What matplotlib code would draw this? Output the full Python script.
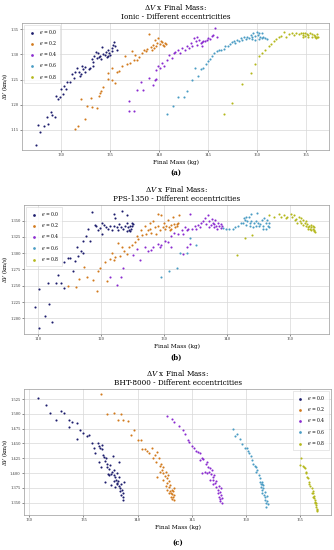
import matplotlib
matplotlib.use("Agg")
import matplotlib.pyplot as plt

plt.rcParams['font.family'] = 'DejaVu Serif'
plt.rcParams['mathtext.fontset'] = 'dejavuserif'

# eccentricities and colours
ecc_labels = ["0.0", "0.2", "0.4", "0.6", "0.8"]
ecc_colors = ['#1c1c6c', '#d27a1c', '#8a2bd0', '#4a9cc4', '#b4b81c']

# ---- (a) Ionic: (final mass kg, dV km/s) ----
ionic_e00 = [(127.45, 1.119), (127.6, 1.160), (127.8, 1.145), (128.2, 1.157), (128.5, 1.176),
             (128.6, 1.162), (129.0, 1.186), (129.05, 1.180), (129.4, 1.175), (129.5, 1.218),
             (129.7, 1.211), (129.9, 1.216), (130.0, 1.231), (130.2, 1.222), (130.3, 1.237),
             (130.5, 1.231), (130.6, 1.246), (130.9, 1.245), (131.1, 1.261), (131.3, 1.253),
             (131.4, 1.266), (131.6, 1.273), (131.8, 1.266), (131.9, 1.257), (132.0, 1.261),
             (132.1, 1.276), (132.2, 1.271), (132.4, 1.266), (132.45, 1.274), (132.8, 1.271),
             (132.9, 1.273), (133.1, 1.290), (133.2, 1.284), (133.2, 1.276), (133.3, 1.297),
             (133.5, 1.304), (133.6, 1.292), (133.7, 1.302), (133.8, 1.294), (134.0, 1.296),
             (134.1, 1.290), (134.2, 1.314), (134.3, 1.301), (134.5, 1.299), (134.6, 1.304),
             (134.7, 1.294), (134.8, 1.297), (134.8, 1.308), (134.9, 1.302), (135.0, 1.299),
             (135.2, 1.312), (135.2, 1.306), (135.3, 1.319), (135.4, 1.324), (135.5, 1.316),
             (135.7, 1.309)]
ionic_e02 = [(131.4, 1.151), (131.7, 1.158), (132.0, 1.211), (132.4, 1.172), (132.6, 1.198),
             (133.0, 1.213), (133.1, 1.196), (133.6, 1.193), (133.8, 1.218), (134.0, 1.223),
             (134.1, 1.228), (134.3, 1.235), (134.8, 1.263), (134.8, 1.251), (135.2, 1.249),
             (135.2, 1.273), (135.5, 1.244), (135.7, 1.266), (135.9, 1.268), (136.2, 1.276),
             (136.5, 1.296), (136.7, 1.281), (137.0, 1.282), (137.2, 1.306), (137.4, 1.289),
             (137.55, 1.299), (137.7, 1.289), (137.9, 1.294), (138.2, 1.302), (138.4, 1.309),
             (138.6, 1.306), (138.7, 1.310), (138.9, 1.340), (139.1, 1.315), (139.25, 1.309),
             (139.4, 1.319), (139.5, 1.312), (139.6, 1.329), (139.7, 1.316), (139.8, 1.322),
             (139.9, 1.332), (140.1, 1.321), (140.2, 1.326), (140.3, 1.324), (140.4, 1.319),
             (140.5, 1.316), (140.6, 1.322), (140.7, 1.321)]
ionic_e04 = [(136.9, 1.208), (136.9, 1.188), (137.4, 1.188), (137.7, 1.229), (138.1, 1.246),
             (138.3, 1.229), (138.9, 1.253), (139.4, 1.239), (139.6, 1.249), (139.7, 1.251),
             (139.7, 1.269), (139.9, 1.277), (140.1, 1.272), (140.3, 1.282), (140.5, 1.276),
             (140.8, 1.289), (141.0, 1.299), (141.3, 1.292), (141.5, 1.302), (141.6, 1.304),
             (141.9, 1.309), (142.1, 1.302), (142.3, 1.312), (142.6, 1.309), (142.8, 1.316),
             (143.0, 1.312), (143.2, 1.322), (143.3, 1.317), (143.5, 1.332), (143.7, 1.326),
             (143.8, 1.319), (143.8, 1.334), (144.0, 1.329), (144.2, 1.322), (144.35, 1.324),
             (144.35, 1.316), (144.5, 1.326), (144.7, 1.326), (144.9, 1.329), (145.0, 1.332),
             (145.2, 1.330), (145.4, 1.337), (145.5, 1.339), (145.7, 1.352), (145.9, 1.334)]
ionic_e06 = [(140.8, 1.181), (141.4, 1.198), (141.9, 1.216), (142.5, 1.215), (142.8, 1.228),
             (143.3, 1.249), (143.6, 1.272), (143.95, 1.257), (144.2, 1.271), (144.5, 1.273),
             (144.8, 1.281), (145.0, 1.286), (145.2, 1.290), (145.4, 1.296), (145.6, 1.302),
             (145.9, 1.306), (146.05, 1.308), (146.3, 1.309), (146.6, 1.310), (146.7, 1.316),
             (147.0, 1.317), (147.2, 1.321), (147.4, 1.324), (147.6, 1.326), (147.75, 1.322),
             (147.9, 1.329), (148.1, 1.326), (148.3, 1.332), (148.4, 1.329), (148.6, 1.334),
             (148.8, 1.330), (148.9, 1.335), (149.1, 1.332), (149.3, 1.339), (149.5, 1.334),
             (149.5, 1.330), (149.6, 1.342), (149.8, 1.337), (149.8, 1.329), (150.0, 1.345),
             (150.1, 1.339), (150.2, 1.343), (150.2, 1.330), (150.3, 1.334), (150.5, 1.342),
             (150.5, 1.332), (150.6, 1.335), (150.8, 1.332), (151.0, 1.330)]
ionic_e08 = [(146.6, 1.181), (147.4, 1.204), (148.4, 1.241), (149.3, 1.263), (149.8, 1.281),
             (150.2, 1.297), (150.5, 1.302), (150.8, 1.309), (151.2, 1.316), (151.4, 1.321),
             (151.7, 1.326), (151.9, 1.330), (152.2, 1.334), (152.4, 1.337), (152.7, 1.345),
             (152.9, 1.335), (153.2, 1.341), (153.5, 1.342), (153.7, 1.339), (153.9, 1.342),
             (154.2, 1.341), (154.4, 1.343), (154.6, 1.339), (154.6, 1.335), (154.7, 1.342),
             (154.9, 1.343), (154.9, 1.337), (155.1, 1.341), (155.2, 1.339), (155.2, 1.334),
             (155.4, 1.342), (155.6, 1.340), (155.6, 1.335), (155.75, 1.339), (155.85, 1.334),
             (155.9, 1.337), (156.0, 1.332), (156.1, 1.335), (156.1, 1.340), (156.2, 1.334)]

# ---- (b) PPS-1350 ----
pps_e00 = [(109.6, 1.218), (110.1, 1.245), (110.2, 1.185), (111.2, 1.204), (111.7, 1.222),
           (111.6, 1.255), (112.3, 1.194), (112.8, 1.255), (113.2, 1.267), (113.7, 1.255),
           (114.1, 1.247), (114.2, 1.287), (114.8, 1.293), (115.1, 1.293), (115.6, 1.272),
           (115.9, 1.288), (116.2, 1.309), (116.3, 1.295), (116.9, 1.304), (117.1, 1.318),
           (117.2, 1.300), (117.6, 1.327), (118.0, 1.337), (118.3, 1.319), (118.6, 1.363),
           (119.0, 1.344), (119.2, 1.341), (119.6, 1.335), (119.9, 1.339), (120.1, 1.347),
           (120.2, 1.330), (120.5, 1.344), (120.75, 1.340), (121.1, 1.337), (121.4, 1.342),
           (121.7, 1.335), (122.0, 1.341), (122.1, 1.360), (122.3, 1.354), (122.5, 1.340),
           (122.65, 1.336), (122.9, 1.345), (123.2, 1.340), (123.4, 1.365), (123.5, 1.337),
           (123.8, 1.342), (124.1, 1.346), (124.1, 1.334), (124.2, 1.358), (124.3, 1.340),
           (124.5, 1.336), (124.6, 1.342), (124.6, 1.334), (124.8, 1.337), (124.9, 1.346),
           (125.0, 1.341), (125.1, 1.345)]
pps_e02 = [(114.8, 1.250), (116.0, 1.248), (116.5, 1.261), (117.3, 1.279), (117.8, 1.263),
           (118.8, 1.259), (119.3, 1.242), (119.5, 1.273), (119.9, 1.277), (120.6, 1.286),
           (120.9, 1.257), (121.4, 1.291), (121.7, 1.301), (122.0, 1.290), (122.3, 1.294),
           (122.65, 1.315), (123.0, 1.296), (123.4, 1.309), (123.7, 1.304), (124.1, 1.299),
           (124.4, 1.309), (124.9, 1.312), (125.4, 1.317), (125.7, 1.327), (125.9, 1.322),
           (126.3, 1.335), (126.55, 1.328), (127.0, 1.342), (127.2, 1.330), (127.5, 1.335),
           (127.8, 1.337), (127.8, 1.346), (128.0, 1.331), (128.3, 1.350), (128.55, 1.340),
           (128.8, 1.330), (129.1, 1.342), (129.1, 1.360), (129.35, 1.335), (129.6, 1.358),
           (129.8, 1.340), (130.0, 1.346), (130.2, 1.337), (130.4, 1.342), (130.7, 1.351),
           (130.8, 1.340), (130.9, 1.335), (131.1, 1.344), (131.2, 1.337), (131.5, 1.355),
           (131.6, 1.345), (131.8, 1.340), (132.0, 1.345), (132.1, 1.341), (132.2, 1.347),
           (132.35, 1.359)]
pps_e04 = [(121.4, 1.263), (122.5, 1.251), (123.2, 1.264), (123.5, 1.277), (125.1, 1.298),
           (125.7, 1.306), (126.2, 1.290), (127.0, 1.309), (127.5, 1.304), (127.9, 1.305),
           (128.3, 1.309), (129.0, 1.314), (129.35, 1.309), (129.6, 1.312), (130.1, 1.319),
           (130.7, 1.317), (131.2, 1.309), (131.2, 1.327), (131.6, 1.331), (132.2, 1.330),
           (132.8, 1.335), (133.0, 1.330), (133.0, 1.299), (133.3, 1.340), (133.6, 1.335),
           (133.6, 1.309), (133.9, 1.337), (134.1, 1.314), (134.2, 1.360), (134.5, 1.337),
           (134.9, 1.342), (135.1, 1.337), (135.4, 1.344), (135.7, 1.340), (135.9, 1.346),
           (136.2, 1.350), (136.5, 1.354), (136.7, 1.345), (137.0, 1.358), (137.1, 1.340),
           (137.2, 1.350), (137.4, 1.344), (137.6, 1.353), (137.8, 1.347), (137.9, 1.340),
           (138.0, 1.345), (138.1, 1.351), (138.3, 1.342), (138.5, 1.337), (138.6, 1.346),
           (138.8, 1.341), (139.0, 1.345), (139.1, 1.339), (139.2, 1.342)]
pps_e06 = [(129.5, 1.263), (130.8, 1.272), (132.0, 1.277), (132.5, 1.300), (133.6, 1.300),
           (134.2, 1.324), (135.1, 1.312), (139.4, 1.339), (139.9, 1.337), (140.4, 1.337),
           (140.9, 1.337), (141.3, 1.340), (141.7, 1.342), (142.2, 1.346), (142.5, 1.347),
           (142.7, 1.354), (142.9, 1.351), (143.05, 1.344), (143.05, 1.356), (143.2, 1.350),
           (143.5, 1.355), (143.6, 1.347), (143.6, 1.341), (143.8, 1.360), (143.9, 1.349),
           (144.1, 1.340), (144.3, 1.346), (144.6, 1.350), (144.6, 1.342), (144.8, 1.361),
           (145.0, 1.347), (145.1, 1.341), (145.3, 1.345), (145.5, 1.351), (145.7, 1.341),
           (145.7, 1.337), (145.95, 1.354), (146.2, 1.346), (146.2, 1.337), (146.4, 1.351),
           (146.5, 1.342), (146.6, 1.347), (146.7, 1.340)]
pps_e08 = [(141.6, 1.298), (142.8, 1.324), (143.95, 1.328), (146.7, 1.358), (147.5, 1.355),
           (148.3, 1.360), (148.6, 1.355), (149.0, 1.358), (149.4, 1.354), (149.6, 1.356),
           (150.1, 1.360), (150.3, 1.355), (150.6, 1.358), (150.8, 1.351), (151.0, 1.353),
           (151.2, 1.347), (151.4, 1.355), (151.6, 1.349), (151.7, 1.354), (151.8, 1.346),
           (152.0, 1.351), (152.1, 1.344), (152.4, 1.347), (152.5, 1.341), (152.5, 1.350),
           (152.7, 1.345), (152.8, 1.337), (152.9, 1.340), (153.1, 1.342), (153.2, 1.337),
           (153.3, 1.340), (153.3, 1.344), (153.4, 1.335), (153.6, 1.337), (153.6, 1.341),
           (153.75, 1.334), (153.9, 1.336), (153.9, 1.340), (154.0, 1.332)]

# ---- (c) BHT-8000 ----
bht_e00 = [(130.8, 1.526), (131.5, 1.515), (131.9, 1.502), (132.5, 1.490), (132.9, 1.505),
           (133.2, 1.502), (133.7, 1.490), (133.9, 1.487), (133.7, 1.477), (134.4, 1.485),
           (134.4, 1.457), (134.7, 1.472), (135.0, 1.468), (135.3, 1.463), (135.5, 1.464),
           (135.8, 1.451), (136.0, 1.443), (136.1, 1.434), (136.3, 1.450), (136.4, 1.446),
           (136.4, 1.419), (136.5, 1.443), (136.6, 1.411), (136.7, 1.447), (136.75, 1.440),
           (136.8, 1.430), (136.9, 1.427), (137.0, 1.421), (137.0, 1.384), (137.05, 1.425),
           (137.15, 1.416), (137.2, 1.411), (137.3, 1.399), (137.35, 1.406), (137.4, 1.397),
           (137.45, 1.413), (137.5, 1.398), (137.5, 1.380), (137.6, 1.402), (137.7, 1.428),
           (137.8, 1.397), (137.8, 1.405), (137.8, 1.387), (137.9, 1.393), (137.9, 1.377),
           (138.0, 1.388), (138.1, 1.400), (138.1, 1.383), (138.1, 1.381), (138.2, 1.387),
           (138.25, 1.378), (138.3, 1.419), (138.3, 1.394), (138.4, 1.374), (138.4, 1.369),
           (138.5, 1.381), (138.5, 1.363), (138.6, 1.372), (138.65, 1.359), (138.7, 1.367),
           (138.7, 1.355), (138.75, 1.385)]
bht_e02 = [(136.6, 1.533), (137.2, 1.499), (137.8, 1.501), (138.2, 1.490), (138.5, 1.499),
           (138.7, 1.490), (139.1, 1.488), (139.4, 1.464), (139.7, 1.472), (140.0, 1.455),
           (140.3, 1.456), (140.4, 1.440), (140.7, 1.440), (140.9, 1.438), (141.1, 1.433),
           (141.3, 1.443), (141.4, 1.425), (141.6, 1.430), (141.7, 1.419), (141.8, 1.436),
           (141.8, 1.394), (142.0, 1.425), (142.05, 1.412), (142.1, 1.402), (142.2, 1.416),
           (142.3, 1.405), (142.4, 1.410), (142.4, 1.400), (142.4, 1.389), (142.5, 1.395),
           (142.6, 1.402), (142.6, 1.378), (142.7, 1.391), (142.7, 1.383), (142.7, 1.371),
           (142.8, 1.397), (142.9, 1.387), (142.9, 1.377), (142.9, 1.367), (143.0, 1.370),
           (143.0, 1.380), (143.1, 1.366), (143.1, 1.360), (143.2, 1.372), (143.2, 1.356),
           (143.2, 1.365), (143.3, 1.369), (143.3, 1.359), (143.35, 1.355), (143.4, 1.375),
           (143.4, 1.363)]
bht_e04 = [(142.7, 1.497), (143.2, 1.492), (143.4, 1.486), (143.8, 1.479), (144.2, 1.472),
           (144.4, 1.466), (144.7, 1.456), (144.8, 1.453), (145.0, 1.446), (145.2, 1.443),
           (145.4, 1.438), (145.55, 1.436), (145.8, 1.433), (145.8, 1.422), (146.0, 1.425),
           (146.0, 1.400), (146.1, 1.423), (146.2, 1.401), (146.3, 1.416), (146.4, 1.419),
           (146.4, 1.400), (146.5, 1.411), (146.6, 1.401), (146.7, 1.408), (146.7, 1.388),
           (146.8, 1.398), (146.9, 1.405), (147.0, 1.393), (147.0, 1.388), (147.0, 1.382),
           (147.1, 1.397), (147.2, 1.383), (147.3, 1.377), (147.3, 1.386), (147.4, 1.371),
           (147.45, 1.366), (147.5, 1.378), (147.55, 1.360), (147.6, 1.368), (147.6, 1.356),
           (147.65, 1.352), (147.7, 1.363), (147.7, 1.374), (147.8, 1.358), (147.8, 1.350)]
bht_e06 = [(148.8, 1.475), (149.0, 1.463), (149.2, 1.466), (149.5, 1.457), (149.7, 1.449),
           (149.9, 1.443), (150.1, 1.443), (150.25, 1.438), (150.3, 1.433), (150.5, 1.428),
           (150.6, 1.422), (150.7, 1.416), (150.9, 1.412), (150.95, 1.411), (151.0, 1.402),
           (151.1, 1.405), (151.2, 1.397), (151.3, 1.391), (151.3, 1.384), (151.4, 1.381),
           (151.45, 1.377), (151.5, 1.385), (151.5, 1.381), (151.5, 1.371), (151.55, 1.367),
           (151.6, 1.374), (151.6, 1.379), (151.7, 1.363), (151.75, 1.359), (151.8, 1.368),
           (151.8, 1.355), (151.9, 1.349), (151.9, 1.343), (152.0, 1.361), (152.0, 1.352),
           (152.05, 1.347)]
bht_e08 = [(155.15, 1.426), (155.0, 1.414), (155.3, 1.412), (155.4, 1.410), (155.45, 1.408),
           (155.55, 1.402), (155.6, 1.400), (155.7, 1.394), (155.8, 1.391), (155.9, 1.385),
           (155.9, 1.381), (156.0, 1.378), (156.1, 1.374), (156.1, 1.367), (156.2, 1.370),
           (156.2, 1.366), (156.2, 1.360), (156.3, 1.361), (156.35, 1.357), (156.4, 1.354),
           (156.4, 1.351), (156.45, 1.350), (156.5, 1.346), (156.5, 1.349), (156.5, 1.342),
           (156.6, 1.338), (156.6, 1.335), (156.6, 1.339)]

panels = [
    ("Ionic", [ionic_e00, ionic_e02, ionic_e04, ionic_e06, ionic_e08],
     (126.0, 157.3), (1.110, 1.363), [130, 135, 140, 145, 150, 155],
     [1.15, 1.20, 1.25, 1.30, 1.35], "%.2f", "upper left", "(a)"),
    ("PPS-1350", [pps_e00, pps_e02, pps_e04, pps_e06, pps_e08],
     (107.8, 156.2), (1.176, 1.374), [110, 120, 130, 140, 150],
     [1.200, 1.225, 1.250, 1.275, 1.300, 1.325, 1.350], "%.3f", "upper left", "(b)"),
    ("BHT-8000", [bht_e00, bht_e02, bht_e04, bht_e06, bht_e08],
     (129.5, 157.9), (1.329, 1.542), [130, 135, 140, 145, 150, 155],
     [1.350, 1.375, 1.400, 1.425, 1.450, 1.475, 1.500, 1.525], "%.3f", "upper right", "(c)"),
]

fig = plt.figure(figsize=(3.34, 5.5), dpi=100)
boxes = [[0.066, 0.7273, 0.919, 0.2314],
         [0.072, 0.3927, 0.913, 0.2346],
         [0.072, 0.0636, 0.919, 0.2291]]
cap_y = [-0.18, -0.185, -0.22]

for (name, series, xl, yl, xt, yt, fmt, loc, cap), box, cy in zip(panels, boxes, cap_y):
    ax = fig.add_axes(box)
    ax.set_axisbelow(True)
    ax.grid(True, color='#d8d8d8', linewidth=0.5)
    for s in ax.spines.values():
        s.set_color('#9a9a9a')
        s.set_linewidth(0.5)
    for pts, lab, col in zip(series, ecc_labels, ecc_colors):
        xs = [p[0] for p in pts]
        ys = [p[1] for p in pts]
        ax.scatter(xs, ys, s=2.3, color=col, linewidths=0, label=r"$e$ = " + lab)
    ax.set_xlim(*xl)
    ax.set_ylim(*yl)
    ax.set_xticks(xt)
    ax.set_yticks(yt)
    ax.set_yticklabels([fmt % v for v in yt])
    ax.tick_params(labelsize=2.6, length=1.5, width=0.4, pad=1.0, colors='#333333')
    ax.set_xlabel("Final Mass (kg)", fontsize=4.2, labelpad=1.5)
    ax.set_ylabel(r"$\Delta V$ (km/s)", fontsize=3.8)
    # the label's baseline side sits ~10 px from the figure's left edge
    left_px = box[0] * 334
    ax.yaxis.set_label_coords(-(left_px - 10.0) / (box[2] * 334), 0.5)
    ax.set_title(r"$\Delta V$ x Final Mass:" + "\n" + name + " - Different eccentricities",
                 fontsize=5.2, pad=3, linespacing=1.1)
    leg = ax.legend(loc=loc, fontsize=3.3, markerscale=1.3, handletextpad=0.6,
                    borderpad=0.6, labelspacing=0.7, frameon=True, fancybox=False)
    leg.get_frame().set_linewidth(0.4)
    leg.get_frame().set_edgecolor('#cccccc')
    ax.text(0.5, cy, cap, transform=ax.transAxes, ha='center', va='center',
            fontsize=5, fontweight='bold')

fig.savefig("out.png", dpi=100)
